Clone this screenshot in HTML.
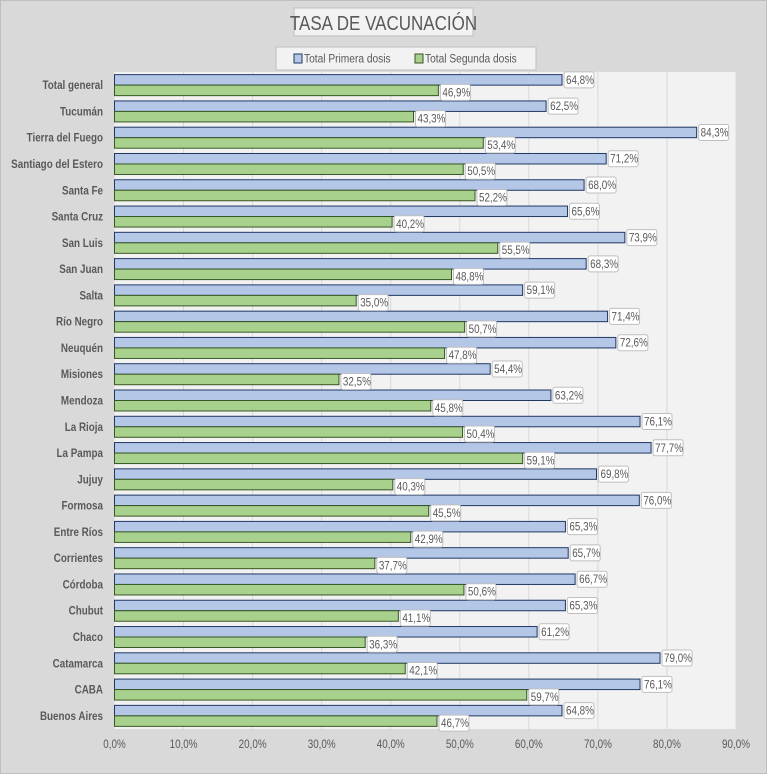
<!DOCTYPE html>
<html><head><meta charset="utf-8"><style>
body{margin:0;background:#d9d9d9;}
svg{display:block;font-family:"Liberation Sans",sans-serif;}
</style></head><body>
<svg id="chart" width="767" height="774">
<rect x="0.5" y="0.5" width="766" height="773" fill="#d9d9d9" stroke="#bfbfbf"/>
<rect x="294" y="8" width="179" height="28" fill="#f2f2f2" stroke="#bfbfbf"/>
<text transform="translate(383.5,30) scale(0.85,1)" text-anchor="middle" font-size="20" fill="#595959">TASA DE VACUNACIÓN</text>
<g>
<rect x="276" y="47" width="260" height="23" fill="#f2f2f2" stroke="#bfbfbf"/>
<rect x="294" y="54" width="8" height="9" fill="#b4c7e7" stroke="#203864"/>
<text transform="translate(304,62.5) scale(0.85,1)" font-size="12" fill="#595959">Total Primera dosis</text>
<rect x="415" y="54" width="8" height="9" fill="#a9d18e" stroke="#385723"/>
<text transform="translate(425,62.5) scale(0.85,1)" font-size="12" fill="#595959">Total Segunda dosis</text>
</g>
<rect x="114.5" y="72" width="621.5" height="657" fill="#f2f2f2"/>
<g id="grid"></g><g id="bars"></g><g id="labels"></g><g id="axis"></g>
</svg>
<script>
const categories=["Total general","Tucumán","Tierra del Fuego","Santiago del Estero","Santa Fe","Santa Cruz","San Luis","San Juan","Salta","Río Negro","Neuquén","Misiones","Mendoza","La Rioja","La Pampa","Jujuy","Formosa","Entre Ríos","Corrientes","Córdoba","Chubut","Chaco","Catamarca","CABA","Buenos Aires"];
const primera=[64.8,62.5,84.3,71.2,68.0,65.6,73.9,68.3,59.1,71.4,72.6,54.4,63.2,76.1,77.7,69.8,76.0,65.3,65.7,66.7,65.3,61.2,79.0,76.1,64.8];
const segunda=[46.9,43.3,53.4,50.5,52.2,40.2,55.5,48.8,35.0,50.7,47.8,32.5,45.8,50.4,59.1,40.3,45.5,42.9,37.7,50.6,41.1,36.3,42.1,59.7,46.7];
const ticks=[0,10,20,30,40,50,60,70,80,90];
</script>
<script>
const NS="http://www.w3.org/2000/svg";
const X0=114.5,X1=736,XMAX=90,Y0=72,Y1=729;
const xs=v=>X0+(X1-X0)*v/XMAX;
const step=(Y1-Y0)/categories.length;
const fmt=v=>v.toFixed(1).replace('.',',')+'%';
function mk(tag,attrs,parent){const e=document.createElementNS(NS,tag);for(const k in attrs)e.setAttribute(k,attrs[k]);parent.appendChild(e);return e;}
const grid=document.getElementById('grid'),bars=document.getElementById('bars'),labels=document.getElementById('labels'),axis=document.getElementById('axis');
const SX=0.82;
ticks.forEach(t=>{
  const x=xs(t);
  if(t>0){const l=mk('line',{x1:x,x2:x,y1:Y0,y2:Y1,stroke:'#d9d9d9','stroke-width':1},grid);
  
  }
  const tx=mk('text',{transform:`translate(${x},748) scale(${SX},1)`,'text-anchor':'middle','font-size':12,fill:'#595959'},axis);
  tx.textContent=t.toFixed(1).replace('.',',')+'%';
  
  
});
function label(x,yc,v){
  const r=mk('rect',{x:x+2,y:yc-8,width:30,height:16,rx:2,fill:'#fff',stroke:'#bfbfbf'},labels);
  
  
  const t=mk('text',{transform:`translate(${x+4},${yc+4}) scale(${SX},1)`,'font-size':12,fill:'#595959'},labels);
  t.textContent=fmt(v);
  
  
}
categories.forEach((c,i)=>{
  const top=Y0+i*step, bh=10.5, by=top+(step-2*bh)/2;
  const cl=mk('text',{transform:`translate(103,${top+step/2+4}) scale(${SX},1)`,'text-anchor':'end','font-size':12,'font-weight':'bold',fill:'#595959'},axis);
  cl.textContent=c;
  
  
  const b1=mk('rect',{x:X0,y:by,width:xs(primera[i])-X0,height:bh,fill:'#b4c7e7',stroke:'#203864','stroke-width':1},bars);
  
  
  const b2=mk('rect',{x:X0,y:by+bh,width:xs(segunda[i])-X0,height:bh,fill:'#a9d18e',stroke:'#385723','stroke-width':1},bars);
  
  
  label(xs(primera[i]),by+bh/2,primera[i]);
  label(xs(segunda[i]),by+bh*1.5+2,segunda[i]);
});
</script>
</body></html>
